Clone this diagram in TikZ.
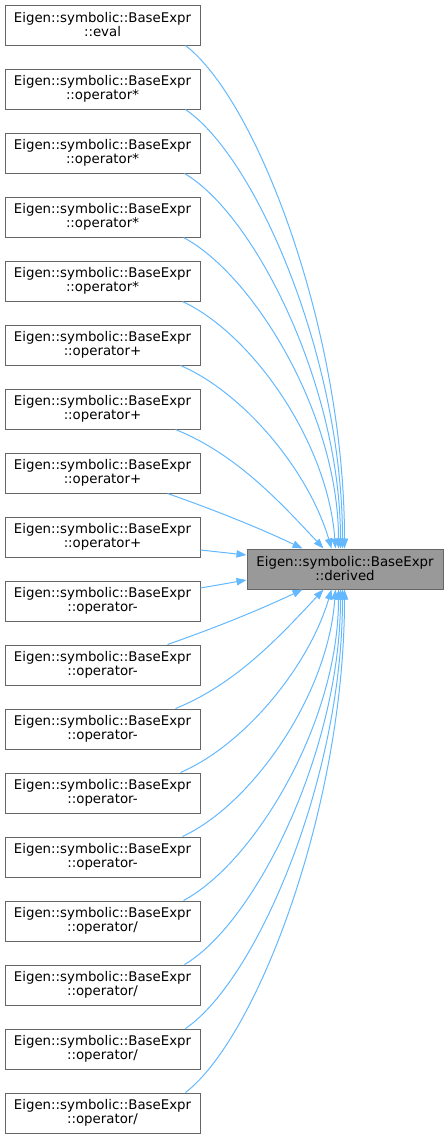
\documentclass[tikz,border=0pt]{standalone}
\usepackage{fontspec}
\setmainfont{DejaVu Sans}
\usetikzlibrary{arrows.meta,calc}
\definecolor{edgecol}{HTML}{63B8FF}
\definecolor{boxborder}{HTML}{666666}
\definecolor{hlfill}{HTML}{999999}
\begin{document}
\begin{tikzpicture}[x=0.75pt,y=-0.75pt,
  fn/.style={draw=boxborder, line width=0.75pt, fill=white, minimum width=146.25pt,
    minimum height=30pt, inner sep=0pt, align=center, font=\fontsize{10}{10.5}\selectfont},
  hl/.style={fn, fill=hlfill},
  edge/.style={draw=edgecol, line width=0.75pt, -{Triangle[length=7.5pt,width=5.5pt]}}]
\useasboundingbox (0,0) rectangle (448,1139);
\node[fn] (l0) at (102.5,25) {Eigen::symbolic::BaseExpr\\::eval};
\node[fn] (l1) at (102.5,89) {Eigen::symbolic::BaseExpr\\::operator*};
\node[fn] (l2) at (102.5,153) {Eigen::symbolic::BaseExpr\\::operator*};
\node[fn] (l3) at (102.5,217) {Eigen::symbolic::BaseExpr\\::operator*};
\node[fn] (l4) at (102.5,281) {Eigen::symbolic::BaseExpr\\::operator*};
\node[fn] (l5) at (102.5,345) {Eigen::symbolic::BaseExpr\\::operator+};
\node[fn] (l6) at (102.5,409) {Eigen::symbolic::BaseExpr\\::operator+};
\node[fn] (l7) at (102.5,473) {Eigen::symbolic::BaseExpr\\::operator+};
\node[fn] (l8) at (102.5,537) {Eigen::symbolic::BaseExpr\\::operator+};
\node[fn] (l9) at (102.5,601) {Eigen::symbolic::BaseExpr\\::operator-};
\node[fn] (l10) at (102.5,665) {Eigen::symbolic::BaseExpr\\::operator-};
\node[fn] (l11) at (102.5,729) {Eigen::symbolic::BaseExpr\\::operator-};
\node[fn] (l12) at (102.5,793) {Eigen::symbolic::BaseExpr\\::operator-};
\node[fn] (l13) at (102.5,857) {Eigen::symbolic::BaseExpr\\::operator-};
\node[fn] (l14) at (102.5,921) {Eigen::symbolic::BaseExpr\\::operator/};
\node[fn] (l15) at (102.5,985) {Eigen::symbolic::BaseExpr\\::operator/};
\node[fn] (l16) at (102.5,1049) {Eigen::symbolic::BaseExpr\\::operator/};
\node[fn] (l17) at (102.5,1113) {Eigen::symbolic::BaseExpr\\::operator/};
\node[hl, minimum width=147pt] (d) at (345,569) {Eigen::symbolic::BaseExpr\\::derived};
% upper and lower fans
\foreach \k/\sx/\ex/\a/\b/\c/\dd in {0/185/345/0.45/0.11/0/0.57, 1/185/343/0.45/0.11/0/0.57,
   2/184/341/0.45/0.11/0/0.57, 3/183/339/0.45/0.12/0/0.57, 4/182/336/0.45/0.13/0.05/0.57,
   5/180/332/0.42/0.15/0.15/0.58, 6/175/324/0.4/0.2/0.3/0.6, 7/167/303/0.33/0.28/0.33/0.62}{
  \pgfmathsetmacro\ddx{\ex-\sx}
  \pgfmathsetmacro\ddy{504-64*\k}
  \pgfmathsetmacro\ax{\a*\ddx}
  \pgfmathsetmacro\ay{\b*\ddy}
  \pgfmathsetmacro\cx{-\c*\ddx}
  \pgfmathsetmacro\cy{-(1-\dd)*\ddy}
  \pgfmathtruncatemacro\m{17-\k}
  \draw[edge] ($(l\k.south east)+(\sx-200,0)$) .. controls +(\ax,\ay) and +(\cx,\cy) .. ($(d.north west)+(\ex-247,0)$);
  \draw[edge] ($(l\m.north east)+(\sx-200,0)$) .. controls +(\ax,-\ay) and +(\cx,-\cy) .. ($(d.south west)+(\ex-247,0)$);
}
\draw[edge] ($(l8.east)+(0,13)$) -- ($(d.west)+(0,-14)$);
\draw[edge] ($(l9.east)+(0,-13)$) -- ($(d.west)+(0,11)$);
\end{tikzpicture}
\end{document}
